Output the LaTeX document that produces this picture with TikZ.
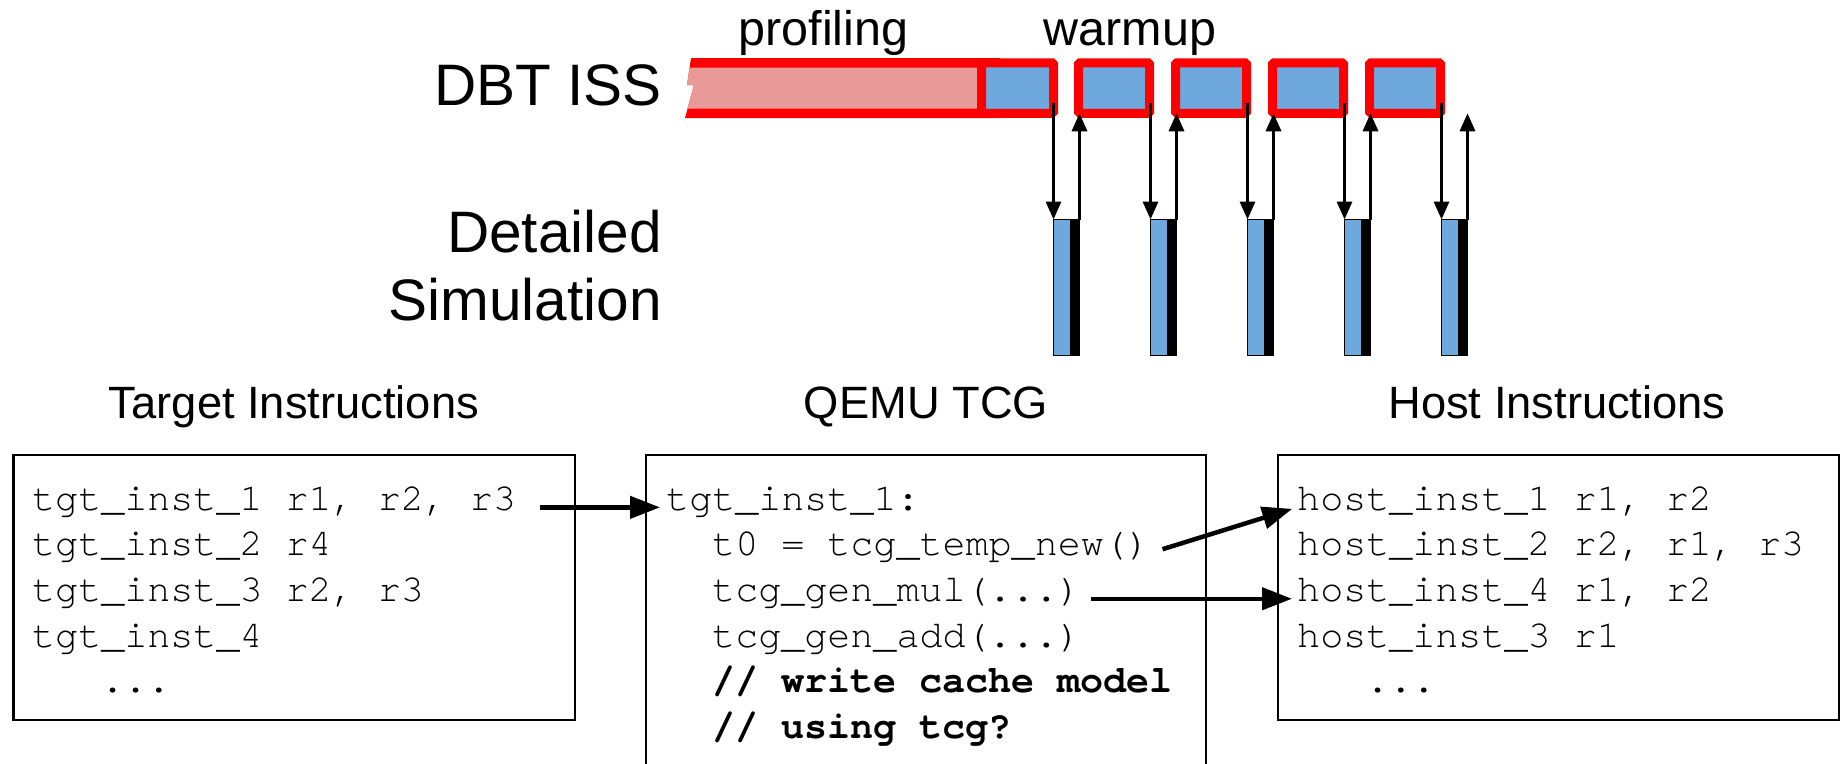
\documentclass[tikz,border=0pt]{standalone}
\usepackage{fontspec}
\setmainfont{Liberation Sans}
\newfontfamily\codefont{texgyrecursor-regular.otf}[BoldFont=texgyrecursor-bold.otf]
\usetikzlibrary{arrows.meta,calc}
\definecolor{issblue}{HTML}{6FA8DC}
\definecolor{profpink}{HTML}{EA9999}

\begin{document}
\begin{tikzpicture}[x=1pt,y=-1pt,
  biglabel/.style={inner sep=0pt, font=\fontsize{58.5}{68}\selectfont},
  phaselabel/.style={inner sep=0pt, anchor=base, font=\fontsize{48.5}{56}\selectfont},
  title/.style={inner sep=0pt, anchor=base, font=\fontsize{45.3}{52}\selectfont},
  code/.style={inner sep=0pt, anchor=base west, font=\codefont\fontsize{38.4}{46}\selectfont},
  boldcode/.style={code, font=\codefont\bfseries\fontsize{38.4}{46}\selectfont},
  dbt/.style={draw=red, fill=issblue, line width=9pt, rounded corners=1.5pt,
    minimum width=71pt, minimum height=50.5pt, inner sep=0pt, outer sep=0pt},
  detbar/.style={draw=black, fill=issblue, line width=1.5pt,
    minimum width=26pt, minimum height=136pt, inner sep=0pt, outer sep=0pt,
    path picture={\fill[black] ($(path picture bounding box.north east)+(-10,0)$)
      rectangle (path picture bounding box.south east);}},
  codebox/.style={draw=black, line width=2.2pt, inner sep=0pt, outer sep=0pt},
  varrow/.style={line width=3.2pt, -{Triangle[length=18pt,width=15pt]}},
  harrow/.style={line width=4.5pt, -{Triangle[length=30pt,width=22pt]}}
]
\useasboundingbox (0,0) rectangle (1846,763);

% row labels
\node[biglabel, anchor=base east] (dbtlabel) at (662,105) {DBT ISS};
\node[biglabel, anchor=base east] (detlabelA) at (662,252) {Detailed};
\node[biglabel, anchor=base east] (detlabelB) at (662,320) {Simulation};

% phase labels
\node[phaselabel] (profiling) at (823.5,45) {profiling};
\node[phaselabel] (warmup) at (1130,45) {warmup};

% long profiling bar with a broken left end
\fill[red] (691,58) -- (687,85) -- (694,85) -- (685,118) -- (1000,118) -- (1000,58) -- cycle;
\fill[profpink] (689.5,67.5) -- (687,85) -- (694,85) -- (687.5,108.5)
  -- (990,108.5) -- (990,67.5) -- cycle;

% warmup slices of the ISS
\node[dbt, minimum width=72pt] (b1) at (1017.5,88) {};
\foreach \k in {2,...,5}
  \node[dbt] (b\k) at ({1114+97*(\k-2)},88) {};
\coordinate (b6) at (1467,113.25);

% detailed simulation slices
\foreach \k in {1,...,5}
  \node[detbar] (d\k) at ({1066.5+97*(\k-1)},287.5) {};

% hand-off arrows between ISS and detailed simulation
\foreach \k in {1,...,5}{
  \pgfmathtruncatemacro\nxt{\k+1}
  \draw[varrow] ($(d\k.north west |- b\k.east)+(0,15)$) -- (d\k.north west);
  \draw[varrow] (d\k.north east) -- (d\k.north east |- b\nxt.south);
}

% column titles
\node[title] (ttitle) at (294,418) {Target Instructions};
\node[title] (qtitle) at (926,418) {QEMU TCG};
\node[title] (htitle) at (1557,418) {Host Instructions};

% code boxes
\node[codebox, minimum width=561.3pt, minimum height=264.8pt] (tbox) at (294.2,587.5) {};
\node[codebox, minimum width=559.8pt, minimum height=375pt] (qbox) at (926,642.6) {};
\node[codebox, minimum width=560.8pt, minimum height=264.8pt] (hbox) at (1558.5,587.5) {};

% target instructions
\node[code] (t1) at (32,510) {tgt\_inst\_1 r1, r2, r3};
\node[code] (t2) at (32,555.7) {tgt\_inst\_2 r4};
\node[code] (t3) at (32,601.4) {tgt\_inst\_3 r2, r3};
\node[code] (t4) at (32,647.1) {tgt\_inst\_4};
\node[code] (t5) at (101,692.8) {...};

% TCG code
\node[code] (q1) at (666,510) {tgt\_inst\_1:};
\node[code] (q2) at (712,555.7) {t0 = tcg\_temp\_new()};
\node[code] (q3) at (712,601.4) {tcg\_gen\_mul(...)};
\node[code] (q4) at (712,647.1) {tcg\_gen\_add(...)};
\node[boldcode] (q5) at (712,692.8) {// write cache model};
\node[boldcode] (q6) at (712,738.5) {// using tcg?};

% host instructions
\node[code] (h1) at (1297,510) {host\_inst\_1 r1, r2};
\node[code] (h2) at (1297,555.7) {host\_inst\_2 r2, r1, r3};
\node[code] (h3) at (1297,601.4) {host\_inst\_4 r1, r2};
\node[code] (h4) at (1297,647.1) {host\_inst\_3 r1};
\node[code] (h5) at (1366,692.8) {...};

% translation arrows
\draw[harrow, shorten <=24pt, shorten >=6pt] (t1.mid east) -- (q1.mid west);
\draw[harrow, shorten <=13pt, shorten >=5pt] (q2.mid east) -- (h1.mid west);
\draw[harrow, shorten <=10pt, shorten >=5pt] (q3.mid east) -- (h3.mid west);
\end{tikzpicture}
\end{document}
